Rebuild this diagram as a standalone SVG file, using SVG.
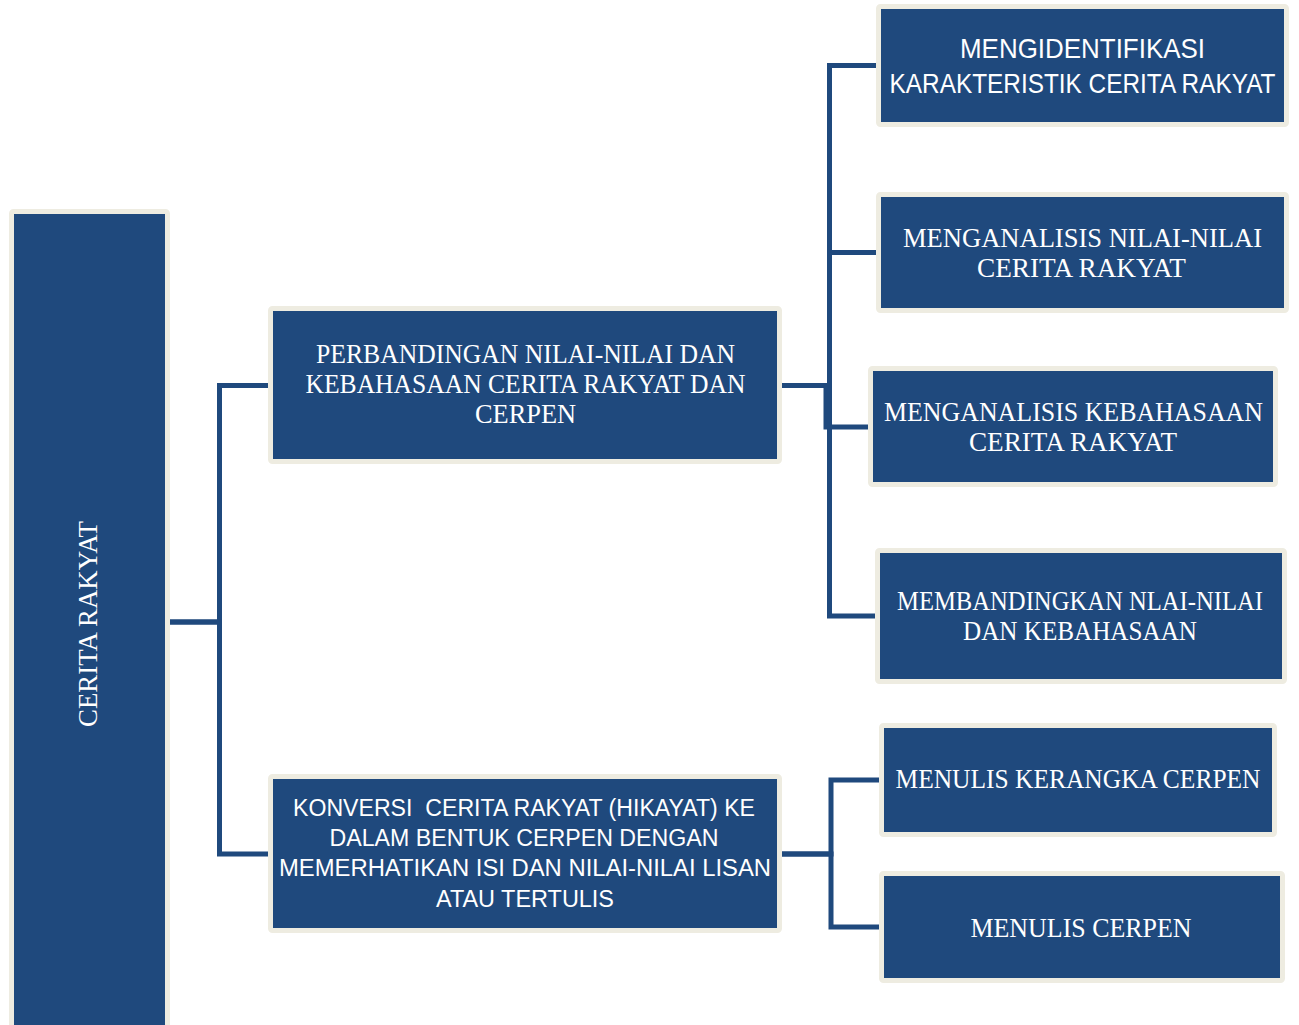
<svg xmlns="http://www.w3.org/2000/svg" width="1299" height="1025" viewBox="0 0 1299 1025">
<style>
.box{fill:#1F497D;stroke:#EEECE1;stroke-width:5}
.ln{fill:none;stroke:#1F497D;stroke-width:5;stroke-linejoin:miter}
.sr{font-family:"Liberation Serif","DejaVu Serif",serif;fill:#FFFFFF;text-anchor:middle}
.ss{font-family:"Liberation Sans","Open Sans",sans-serif;fill:#FFFFFF;text-anchor:middle}
</style>
<rect width="1299" height="1025" fill="#FFFFFF"/>
<g id="connectors">
<path class="ln" d="M170 622 H219.5 V385.5 H268"/>
<path class="ln" d="M170 622 H219.5 V854 H268"/>
<path class="ln" d="M782 385.5 H829.5 V65.5 H876"/>
<path class="ln" d="M782 385.5 H829.5 V252.5 H876"/>
<path class="ln" d="M782 385.5 H826 V427 H868"/>
<path class="ln" d="M782 385.5 H829.5 V616 H875"/>
<path class="ln" d="M782 854 H831 V780 H879"/>
<path class="ln" d="M782 854 H831 V927 H879"/>
</g>
<g id="root">
<rect class="box" x="11.5" y="211.5" width="156" height="830" rx="2"/>
<text class="sr" font-size="27" transform="translate(97,624) rotate(-90)" textLength="206" lengthAdjust="spacingAndGlyphs">CERITA RAKYAT</text>
</g>
<g id="perbandingan">
<rect class="box" x="270.5" y="308.5" width="509" height="153" rx="2"/>
<text class="sr" font-size="27"><tspan x="525.5" y="363" textLength="419" lengthAdjust="spacingAndGlyphs">PERBANDINGAN NILAI-NILAI DAN</tspan></text>
<text class="sr" font-size="27"><tspan x="525.5" y="393" textLength="440" lengthAdjust="spacingAndGlyphs">KEBAHASAAN CERITA RAKYAT DAN</tspan></text>
<text class="sr" font-size="27"><tspan x="525.5" y="423" textLength="101" lengthAdjust="spacingAndGlyphs">CERPEN</tspan></text>
</g>
<g id="konversi">
<rect class="box" x="270.5" y="776.5" width="509" height="154" rx="2"/>
<text class="ss" font-size="23" xml:space="preserve"><tspan x="524" y="816" textLength="462" lengthAdjust="spacingAndGlyphs">KONVERSI  CERITA RAKYAT (HIKAYAT) KE</tspan></text>
<text class="ss" font-size="23"><tspan x="524" y="846" textLength="389" lengthAdjust="spacingAndGlyphs">DALAM BENTUK CERPEN DENGAN</tspan></text>
<text class="ss" font-size="23"><tspan x="525" y="876" textLength="492" lengthAdjust="spacingAndGlyphs">MEMERHATIKAN ISI DAN NILAI-NILAI LISAN</tspan></text>
<text class="ss" font-size="23"><tspan x="525" y="907" textLength="178" lengthAdjust="spacingAndGlyphs">ATAU TERTULIS</tspan></text>
</g>
<g id="mengidentifikasi">
<rect class="box" x="878.5" y="6.5" width="408" height="118" rx="2"/>
<text class="ss" font-size="24" transform="translate(1082.5,58) scale(1,1.15)"><tspan x="0" y="0" textLength="245" lengthAdjust="spacingAndGlyphs">MENGIDENTIFIKASI</tspan></text>
<text class="ss" font-size="24" transform="translate(1082.5,93) scale(1,1.15)"><tspan x="0" y="0" textLength="386" lengthAdjust="spacingAndGlyphs">KARAKTERISTIK CERITA RAKYAT</tspan></text>
</g>
<g id="analisis-nilai">
<rect class="box" x="878.5" y="194.5" width="408" height="116" rx="2"/>
<text class="sr" font-size="28"><tspan x="1082.5" y="247" textLength="359" lengthAdjust="spacingAndGlyphs">MENGANALISIS NILAI-NILAI</tspan></text>
<text class="sr" font-size="28"><tspan x="1081.5" y="277" textLength="209" lengthAdjust="spacingAndGlyphs">CERITA RAKYAT</tspan></text>
</g>
<g id="analisis-kebahasaan">
<rect class="box" x="870.5" y="368.5" width="405" height="116" rx="2"/>
<text class="sr" font-size="28"><tspan x="1073.5" y="421" textLength="379" lengthAdjust="spacingAndGlyphs">MENGANALISIS KEBAHASAAN</tspan></text>
<text class="sr" font-size="28"><tspan x="1073" y="451" textLength="208" lengthAdjust="spacingAndGlyphs">CERITA RAKYAT</tspan></text>
</g>
<g id="membandingkan">
<rect class="box" x="877.5" y="550.5" width="407" height="131" rx="2"/>
<text class="sr" font-size="27"><tspan x="1080" y="610" textLength="366" lengthAdjust="spacingAndGlyphs">MEMBANDINGKAN NLAI-NILAI</tspan></text>
<text class="sr" font-size="27"><tspan x="1080" y="640" textLength="234" lengthAdjust="spacingAndGlyphs">DAN KEBAHASAAN</tspan></text>
</g>
<g id="menulis-kerangka">
<rect class="box" x="881.5" y="725.5" width="393" height="109" rx="2"/>
<text class="sr" font-size="28"><tspan x="1078" y="788" textLength="365" lengthAdjust="spacingAndGlyphs">MENULIS KERANGKA CERPEN</tspan></text>
</g>
<g id="menulis-cerpen">
<rect class="box" x="881.5" y="873.5" width="401" height="107" rx="2"/>
<text class="sr" font-size="28"><tspan x="1081" y="937" textLength="221" lengthAdjust="spacingAndGlyphs">MENULIS CERPEN</tspan></text>
</g>
</svg>
